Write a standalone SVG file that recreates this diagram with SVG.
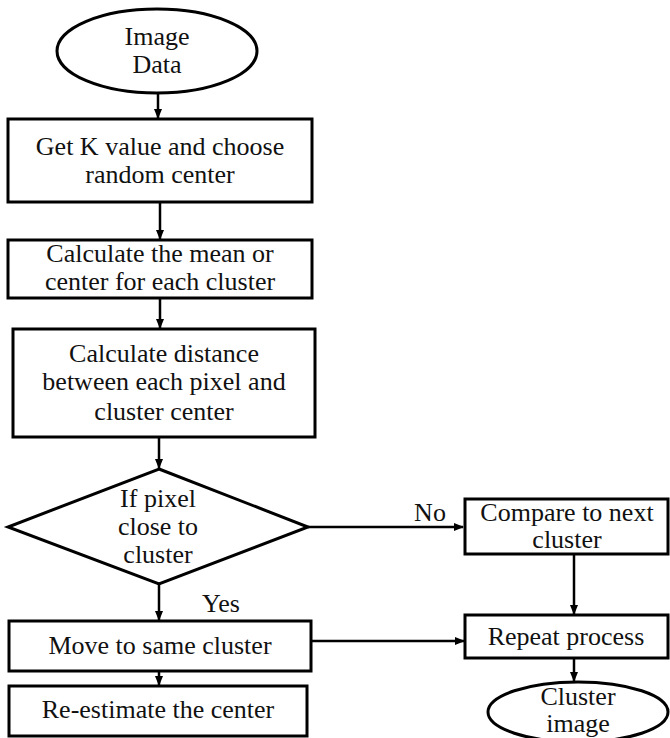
<svg xmlns="http://www.w3.org/2000/svg" width="670" height="738" viewBox="0 0 670 738">
<style>
.s{fill:#fff;stroke:#000;stroke-width:3}
.c{fill:none;stroke:#000;stroke-width:2.5}
.t{font-family:'Liberation Serif','Times New Roman',serif;font-size:26px;fill:#111;text-anchor:middle}
</style>
<defs>
<marker id="ah" markerWidth="10" markerHeight="8" refX="9" refY="4" orient="auto" markerUnits="userSpaceOnUse">
<path d="M0,0 L10,4 L0,8 Z" fill="#000"/>
</marker>
</defs>
<rect width="670" height="738" fill="#fff"/>
<g id="connectors">
<line class="c" x1="158" y1="93" x2="158" y2="118" marker-end="url(#ah)"/>
<line class="c" x1="160" y1="202" x2="160" y2="239" marker-end="url(#ah)"/>
<line class="c" x1="160" y1="298" x2="160" y2="328" marker-end="url(#ah)"/>
<line class="c" x1="159" y1="437" x2="159" y2="468" marker-end="url(#ah)"/>
<line class="c" x1="308" y1="527" x2="463" y2="527" marker-end="url(#ah)"/>
<line class="c" x1="159" y1="584" x2="159" y2="620" marker-end="url(#ah)"/>
<line class="c" x1="574" y1="554" x2="574" y2="614" marker-end="url(#ah)"/>
<line class="c" x1="311" y1="641" x2="464" y2="641" marker-end="url(#ah)"/>
<line class="c" x1="159" y1="671" x2="159" y2="685" marker-end="url(#ah)"/>
<line class="c" x1="574" y1="658" x2="574" y2="681" marker-end="url(#ah)"/>
<text class="t" x="430" y="521">No</text>
<text class="t" x="221" y="612">Yes</text>
</g>
<g id="start">
<ellipse class="s" cx="157" cy="51" rx="100" ry="42"/>
<text class="t" x="157" y="45">Image</text>
<text class="t" x="157" y="73">Data</text>
</g>
<g id="getk">
<rect class="s" x="8" y="119" width="304" height="83"/>
<text class="t" x="160" y="155">Get K value and choose</text>
<text class="t" x="160" y="183">random center</text>
</g>
<g id="mean">
<rect class="s" x="8" y="240" width="304" height="58"/>
<text class="t" x="160" y="262">Calculate the mean or</text>
<text class="t" x="160" y="290">center for each cluster</text>
</g>
<g id="distance">
<rect class="s" x="13" y="329" width="302" height="108"/>
<text class="t" x="164" y="362">Calculate distance</text>
<text class="t" x="164" y="390">between each pixel and</text>
<text class="t" x="164" y="420">cluster center</text>
</g>
<g id="decision">
<polygon class="s" points="159,469 308,527 159,584 8,527"/>
<text class="t" x="158" y="507">If pixel</text>
<text class="t" x="158" y="535">close to</text>
<text class="t" x="158" y="563">cluster</text>
</g>
<g id="compare">
<rect class="s" x="465" y="499" width="203" height="55"/>
<text class="t" x="567" y="521">Compare to next</text>
<text class="t" x="567" y="548">cluster</text>
</g>
<g id="move">
<rect class="s" x="9" y="621" width="302" height="50"/>
<text class="t" x="160" y="654">Move to same cluster</text>
</g>
<g id="reestimate">
<rect class="s" x="9" y="686" width="298" height="50"/>
<text class="t" x="158" y="718">Re-estimate the center</text>
</g>
<g id="repeat">
<rect class="s" x="465" y="615" width="203" height="43"/>
<text class="t" x="566" y="645">Repeat process</text>
</g>
<g id="end">
<ellipse class="s" cx="578" cy="712" rx="90" ry="30"/>
<text class="t" x="578" y="705">Cluster</text>
<text class="t" x="578" y="732">image</text>
</g>
</svg>
